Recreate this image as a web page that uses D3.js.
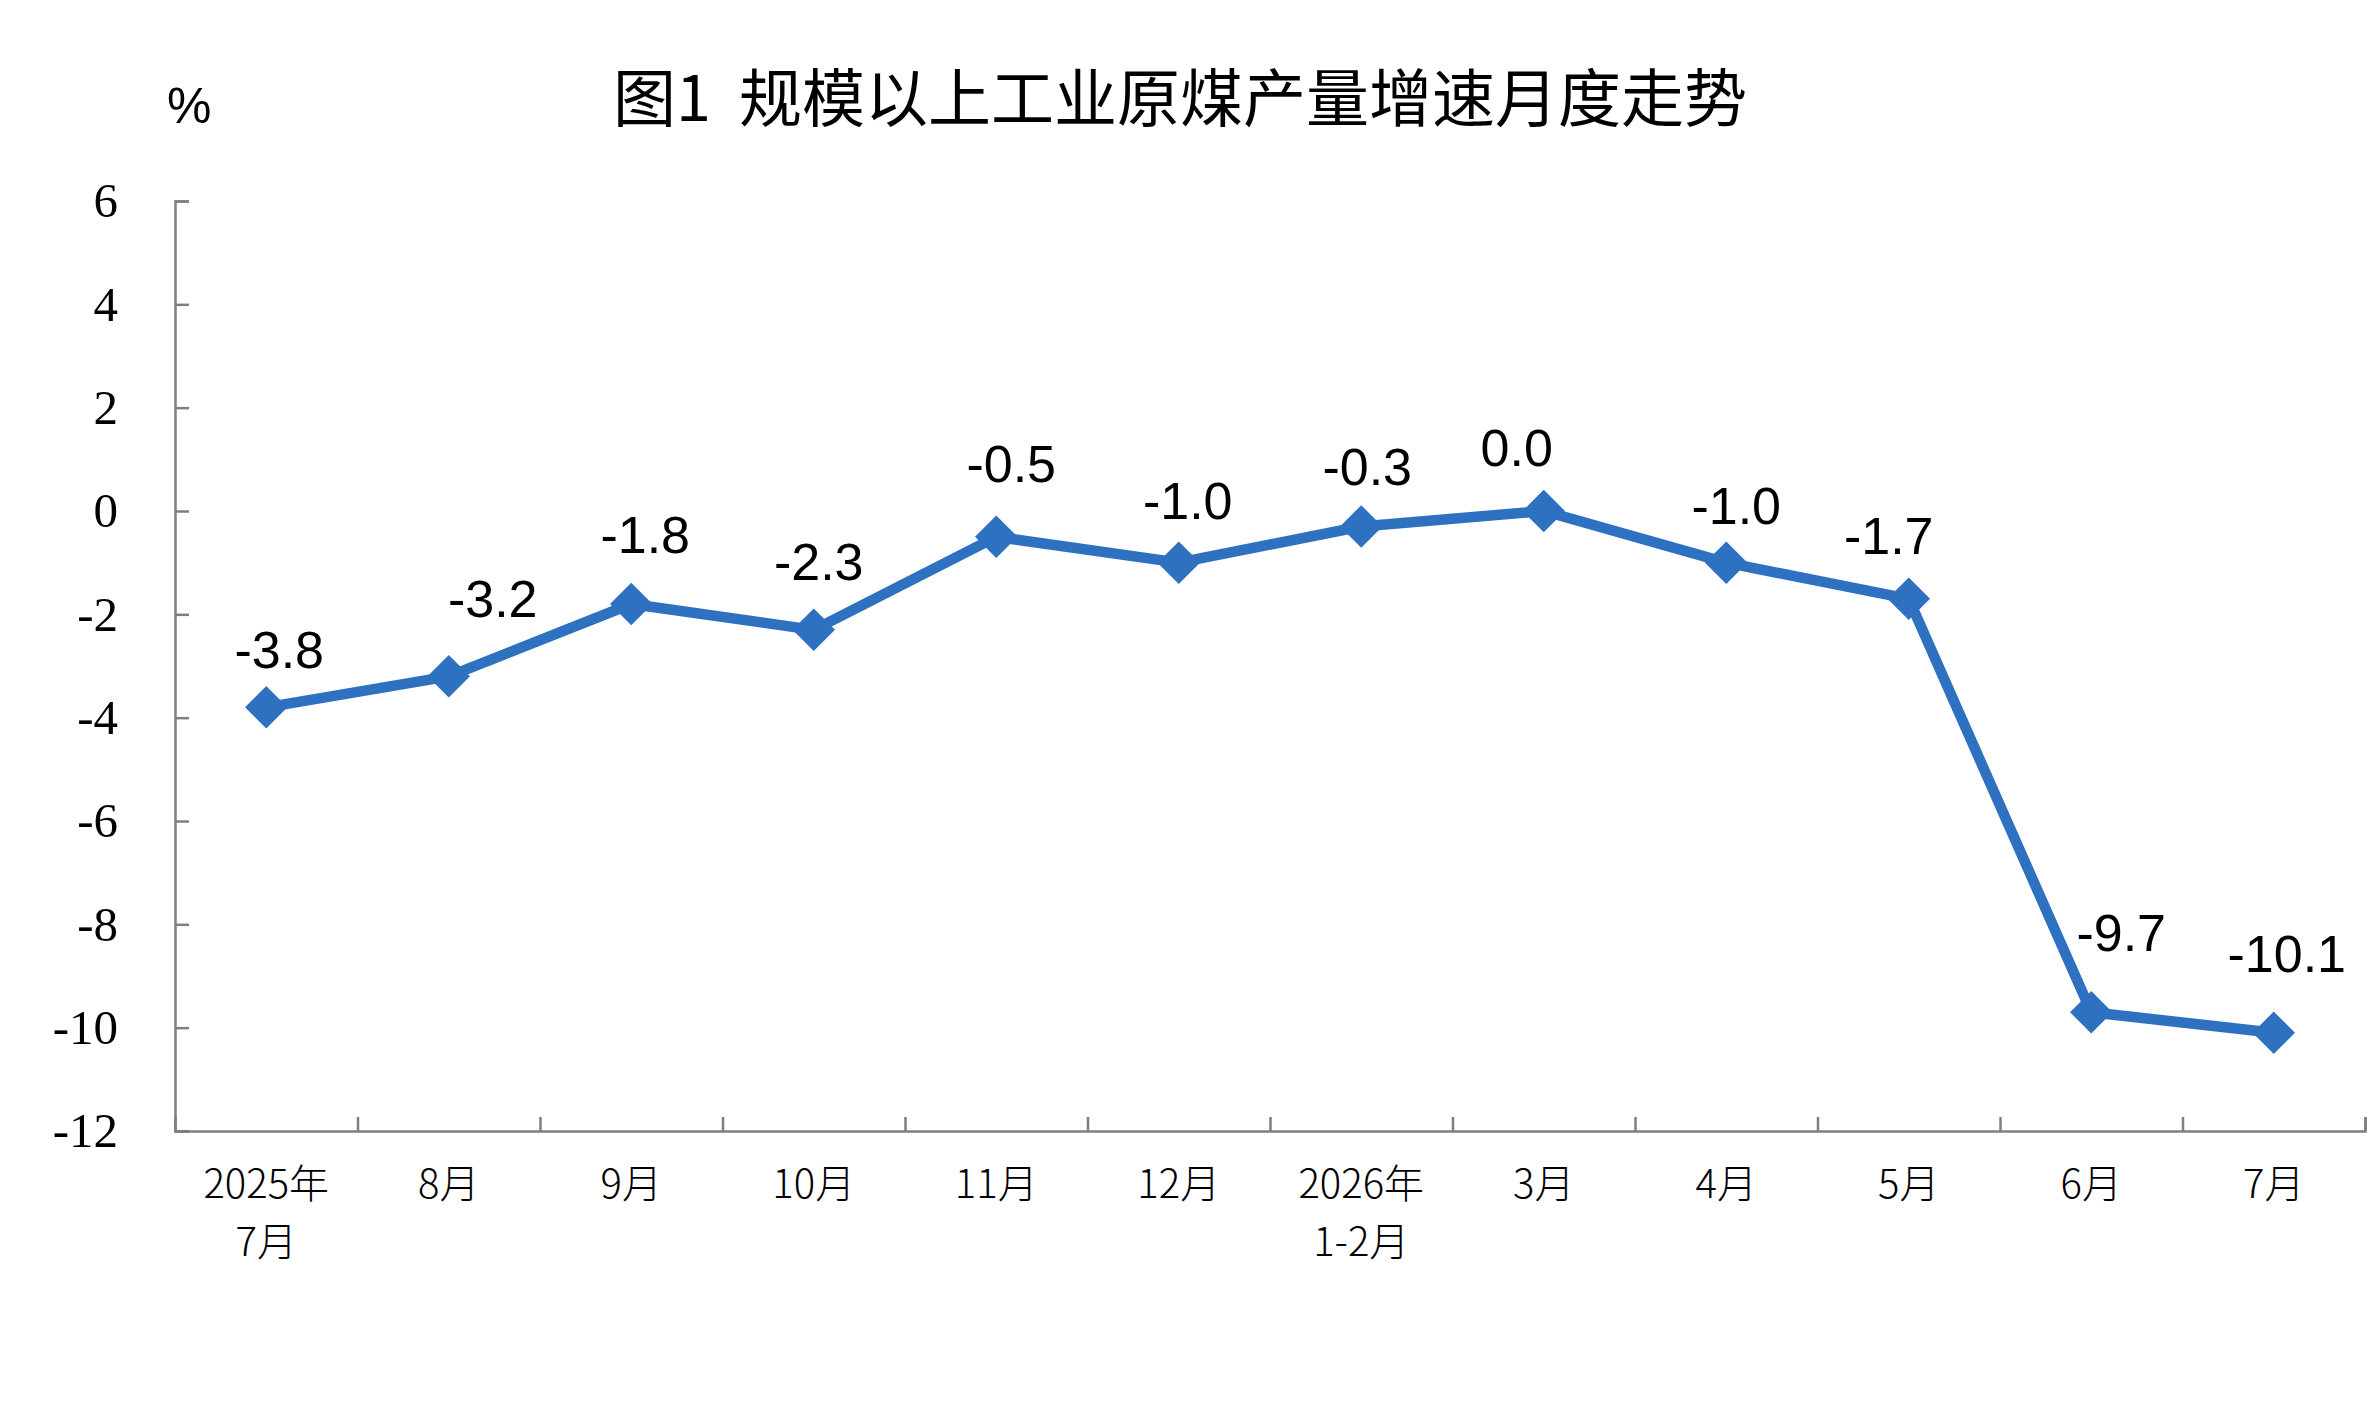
<!DOCTYPE html>
<html>
<head>
<meta charset="utf-8">
<script src="https://cdn.jsdelivr.net/npm/d3@7"></script>
<style>
  html, body { margin: 0; padding: 0; background: #ffffff; }
  svg { display: block; }
</style>
</head>
<body>
<div id="chart"></div>
<script>
// ---------- data ----------
const categories = [
  ["2025年", "7月"], ["8月"], ["9月"], ["10月"], ["11月"], ["12月"],
  ["2026年", "1-2月"], ["3月"], ["4月"], ["5月"], ["6月"], ["7月"]
];
const values = [-3.8, -3.2, -1.8, -2.3, -0.5, -1.0, -0.3, 0.0, -1.0, -1.7, -9.7, -10.1];
const valueLabels = ["-3.8", "-3.2", "-1.8", "-2.3", "-0.5", "-1.0", "-0.3", "0.0", "-1.0", "-1.7", "-9.7", "-10.1"];
const yTicks = [-12, -10, -8, -6, -4, -2, 0, 2, 4, 6];
const titleText = "图1  规模以上工业原煤产量增速月度走势";
const unitText = "%";

// ---------- layout (label nudges as in the source, [dx, rise above point]) ----------
const labelNudge = [[13, 39], [44, 59], [14, 51], [5, 50], [15, 55], [9, 44],
                    [6, 42], [-27, 45], [10, 39], [-20, 45], [30, 61], [13, 61]];

const W = 2380, H = 1420;
const plotLeft = 175, plotRight = 2365, plotTop = 201, plotBottom = 1131;
const lineColor = "#2e71c0";
const axisColor = "#7f7f7f";
const serifFont = "'Liberation Serif', 'Times New Roman', 'DejaVu Serif', serif";
const sansFont = "'Liberation Sans', Arial, sans-serif";
const cjkFont = "'Noto Sans CJK SC', sans-serif";

const svg = d3.select("#chart").append("svg")
  .attr("width", W).attr("height", H)
  .attr("viewBox", `0 0 ${W} ${H}`);

svg.append("rect").attr("width", W).attr("height", H).attr("fill", "#fff");

const keys = categories.map((c, i) => i);
const x = d3.scaleBand().domain(keys).range([plotLeft, plotRight]).padding(0);
const xc = i => x(i) + x.bandwidth() / 2;
const y = d3.scaleLinear().domain([-12, 6]).range([plotBottom, plotTop]);

// title
svg.append("text")
  .attr("x", 1180).attr("y", 121)
  .attr("text-anchor", "middle")
  .style("white-space", "pre")
  .style("font-family", cjkFont)
  .style("font-size", "63px")
  .style("font-weight", 400)
  .attr("fill", "#000")
  .text(titleText);

// unit
svg.append("text")
  .attr("x", 167).attr("y", 123)
  .style("font-family", sansFont)
  .style("font-size", "50px")
  .attr("fill", "#000")
  .text(unitText);

// y axis
const yAxis = d3.axisLeft(y)
  .tickValues(yTicks)
  .tickSize(-14)
  .tickPadding(57)
  .tickFormat(d => String(d));
const gy = svg.append("g").attr("transform", `translate(${plotLeft},0)`).call(yAxis);
gy.attr("font-family", null).attr("font-size", null);
gy.select(".domain").attr("stroke", axisColor).attr("stroke-width", 2.5);
gy.selectAll(".tick line").attr("stroke", axisColor).attr("stroke-width", 2.5);
gy.selectAll(".tick text")
  .style("font-family", serifFont)
  .style("font-size", "49px")
  .attr("fill", "#000");

// x axis: boundary ticks
const xEdge = d3.scaleLinear().domain([0, categories.length]).range([plotLeft, plotRight]);
const xAxis = d3.axisBottom(xEdge)
  .tickValues(d3.range(1, categories.length + 1))
  .tickSize(-14)
  .tickFormat("");
const gx = svg.append("g").attr("transform", `translate(0,${plotBottom})`).call(xAxis);
gx.select(".domain").attr("stroke", axisColor).attr("stroke-width", 2.5);
gx.selectAll(".tick line").attr("stroke", axisColor).attr("stroke-width", 2.5);

// x labels
const xl = svg.append("g")
  .style("font-family", cjkFont)
  .style("font-size", "40px")
  .style("font-weight", 300)
  .attr("fill", "#000")
  .attr("text-anchor", "middle");
categories.forEach((lines, i) => {
  lines.forEach((s, j) => {
    xl.append("text").attr("x", xc(i)).attr("y", 1198 + j * 58).text(s);
  });
});

// line
const line = d3.line().x((d, i) => xc(i)).y(d => y(d));
svg.append("path")
  .datum(values)
  .attr("d", line)
  .attr("fill", "none")
  .attr("stroke", lineColor)
  .attr("stroke-width", 10.5)
  .attr("stroke-linejoin", "round");

// markers
const sym = d3.symbol().type(d3.symbolDiamond2).size(1150);
svg.append("g").selectAll("path")
  .data(values)
  .join("path")
  .attr("d", sym)
  .attr("transform", (d, i) => `translate(${xc(i)},${y(d)})`)
  .attr("fill", lineColor);

// data labels
svg.append("g")
  .style("font-family", sansFont)
  .style("font-size", "52px")
  .attr("fill", "#000")
  .attr("text-anchor", "middle")
  .selectAll("text")
  .data(values)
  .join("text")
  .attr("x", (d, i) => xc(i) + labelNudge[i][0])
  .attr("y", (d, i) => y(d) - labelNudge[i][1])
  .text((d, i) => valueLabels[i]);
</script>
</body>
</html>
